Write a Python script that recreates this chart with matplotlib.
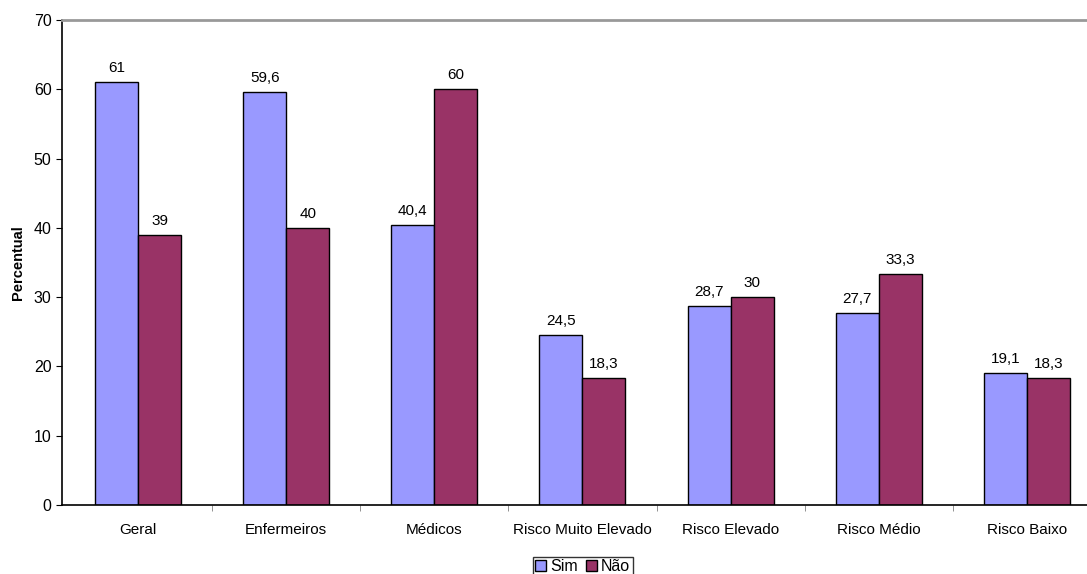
import matplotlib
matplotlib.use("Agg")
import matplotlib.pyplot as plt
import numpy as np

plt.rcParams['font.family'] = ['Liberation Sans', 'DejaVu Sans']

# data
categories = ["Geral", "Enfermeiros", "Médicos", "Risco Muito Elevado",
              "Risco Elevado", "Risco Médio", "Risco Baixo"]
sim = [61, 59.6, 40.4, 24.5, 28.7, 27.7, 19.1]
nao = [39, 40, 60, 18.3, 30, 33.3, 18.3]
sim_labels = ["61", "59,6", "40,4", "24,5", "28,7", "27,7", "19,1"]
nao_labels = ["39", "40", "60", "18,3", "30", "33,3", "18,3"]

fig = plt.figure(figsize=(10.87, 5.74), dpi=100)
# plot area runs a bit past the right edge of the image
ax = fig.add_axes([62/1087, 69/574, 1039/1087, 485/574])

x = np.arange(len(categories))
w = 0.29
b1 = ax.bar(x - w/2, sim, w, color="#9999FF", edgecolor="black", linewidth=1, label="Sim")
b2 = ax.bar(x + w/2, nao, w, color="#993366", edgecolor="black", linewidth=1, label="Não")

ax.bar_label(b1, labels=sim_labels, padding=5, fontsize=11)
ax.bar_label(b2, labels=nao_labels, padding=5, fontsize=11)

ax.set_xlim(-0.513, len(categories) - 0.5)
ax.set_ylim(0, 70)
ax.set_yticks(range(0, 71, 10))
ax.set_xticks(x)
ax.set_xticklabels(categories, fontsize=11)
ax.tick_params(axis='x', length=0, pad=13)
ax.set_xticks(np.arange(0.5, len(categories) - 0.5), minor=True)
ax.tick_params(axis='x', which='minor', length=4, color='gray')
ax.tick_params(axis='y', labelsize=11.5, length=4, direction='out')

ax.spines['right'].set_visible(False)
ax.spines['top'].set_color('#999999')
ax.spines['top'].set_linewidth(2)
ax.spines['left'].set_linewidth(1.2)
ax.spines['bottom'].set_linewidth(1.2)

ax.set_ylabel("Percentual", fontsize=10.5, fontweight='bold', labelpad=6)

leg = fig.legend(loc='lower center', bbox_to_anchor=(0.536, -0.005), ncol=2, fontsize=11.5,
                 frameon=True, fancybox=False, edgecolor='black', handlelength=0.7,
                 handleheight=0.7, handletextpad=0.25, columnspacing=0.5,
                 borderpad=0.15, borderaxespad=0)
leg.get_frame().set_linewidth(1)

fig.savefig("out.png", dpi=100)
